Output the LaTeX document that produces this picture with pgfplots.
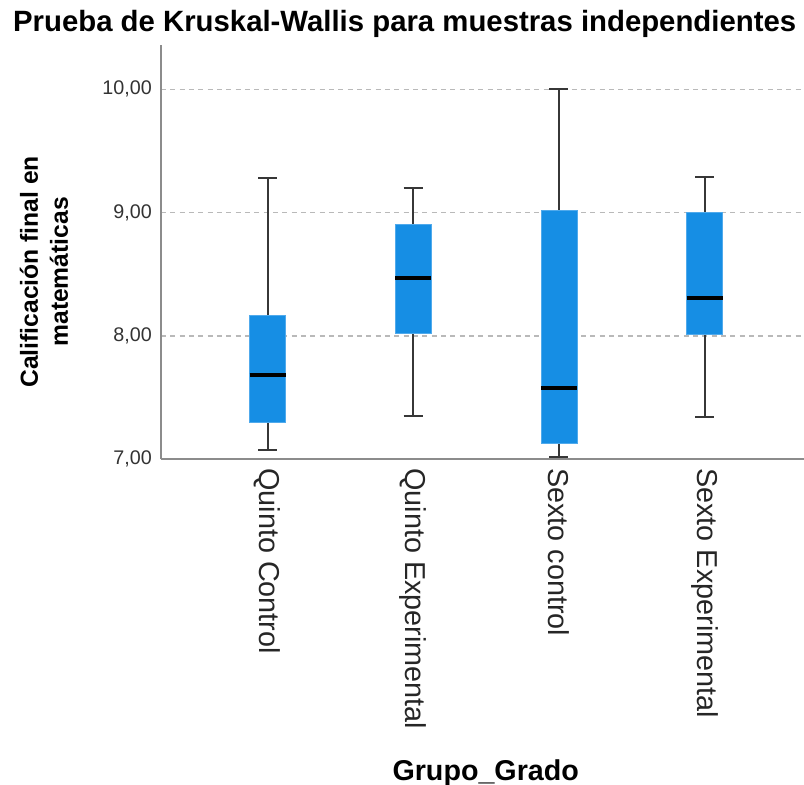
\documentclass[border=0pt]{standalone}
\usepackage{fontspec}
\setmainfont{Liberation Sans}
\usepackage{pgfplots}
\pgfplotsset{compat=1.18}
\usepgfplotslibrary{statistics}
\definecolor{boxblue}{RGB}{22,142,228}
\definecolor{boxedge}{RGB}{80,170,236}
\definecolor{whisk}{RGB}{55,55,55}
\definecolor{gridc}{RGB}{185,185,185}
\definecolor{axc}{RGB}{140,140,140}
\begin{document}
\begin{tikzpicture}
\begin{axis}[
  scale only axis, width=482.25pt, height=310.5pt,
  xmin=-0.731, xmax=3.682, ymin=7, ymax=10.36,
  axis x line*=bottom, axis y line*=left,
  axis line style={axc, line width=1.1pt},
  xtick={0,1,2,3},
  xticklabels={Quinto Control, Quinto Experimental, Sexto control, Sexto Experimental},
  ytick={7,8,9,10},
  major tick length=0pt,
  ymajorgrids, grid style={gridc, line width=1.1pt, dash pattern=on 3.75pt off 3.25pt},
  /pgf/number format/assume math mode=true,
  y tick label style={/pgf/number format/fixed, /pgf/number format/fixed zerofill, /pgf/number format/precision=2, /pgf/number format/use comma},
  yticklabel style={font=\fontsize{14.8}{17}\selectfont, text=black!80, inner sep=0pt, xshift=-6.75pt},
  xticklabel style={font=\fontsize{21.6}{25}\selectfont, text=black!85, rotate=-90, anchor=west, inner xsep=6.75pt, inner ysep=0pt},
  title={Prueba de Kruskal-Wallis para muestras independientes},
  title style={at={(axis description cs:0.379,1.0314)}, anchor=center, font=\bfseries\fontsize{22}{26}\selectfont},
  xlabel={Grupo\_Grado},
  xlabel style={at={(axis description cs:0.505,-0.758)}, anchor=center, font=\bfseries\fontsize{21.5}{25}\selectfont},
  ylabel={Calificación final en\\matemáticas},
  ylabel style={at={(axis description cs:-0.182,0.452)}, anchor=center, align=center, font=\bfseries\fontsize{18.5}{22.5}\selectfont},
  boxplot/draw direction=y,
  boxplot/box extend=0.247,
  boxplot/whisker extend=0.13,
  boxplot/every box/.style={fill=boxblue, draw=boxedge, line width=0.4pt},
  boxplot/every median/.style={black, line width=3pt},
  boxplot/every whisker/.style={whisk, line width=1.5pt},
]
\addplot[boxplot prepared={draw position=0, lower whisker=7.07, lower quartile=7.295, median=7.68, upper quartile=8.165, upper whisker=9.28}] coordinates {};
\addplot[boxplot prepared={draw position=1, lower whisker=7.35, lower quartile=8.02, median=8.47, upper quartile=8.905, upper whisker=9.20}] coordinates {};
\addplot[boxplot prepared={draw position=2, lower whisker=7.02, lower quartile=7.13, median=7.58, upper quartile=9.02, upper whisker=10.0}] coordinates {};
\addplot[boxplot prepared={draw position=3, lower whisker=7.34, lower quartile=8.01, median=8.31, upper quartile=9.00, upper whisker=9.29}] coordinates {};
\end{axis}
\pgfresetboundingbox
\path (-120.75pt,-244.5pt) rectangle (482.25pt,344.25pt);
\end{tikzpicture}
\end{document}
